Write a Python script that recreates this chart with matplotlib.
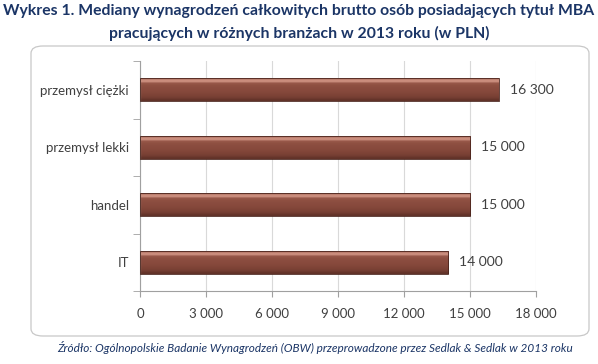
import numpy as np
import matplotlib.pyplot as plt
from matplotlib.patches import FancyBboxPatch
from matplotlib.ticker import FuncFormatter
from matplotlib.colors import LinearSegmentedColormap

categories = ["IT", "handel", "przemysł lekki", "przemysł ciężki"]
values = [14000, 15000, 15000, 16300]
xticks = [0, 3000, 6000, 9000, 12000, 15000, 18000]

title = ("Wykres 1. Mediany wynagrodzeń całkowitych brutto osób posiadających tytuł MBA\n"
         "pracujących w różnych branżach w 2013 roku (w PLN)")
source = "Źródło: Ogólnopolskie Badanie Wynagrodzeń (OBW) przeprowadzone przez Sedlak & Sedlak w 2013 roku"

navy = "#1b3566"
plt.rcParams["font.family"] = ["Lato", "DejaVu Sans"]

W, H = 598, 364
fig = plt.figure(figsize=(W / 100, H / 100), dpi=100)

# ramka wykresu
frame = FancyBboxPatch((31 / W, 1 - 336 / H), 558 / W, 290 / H,
                       boxstyle="round,pad=0,rounding_size=0.02",
                       transform=fig.transFigure, facecolor="white",
                       edgecolor="#c8c8c8", linewidth=0.9, zorder=-1)
fig.patches.append(frame)

ax = fig.add_axes([140 / W, 1 - 291 / H, 396 / W, 230 / H])
ax.set_facecolor("none")

y = np.arange(len(categories))
h = 0.4
ax.set_xlim(0, 18000)
ax.set_ylim(-0.5, len(categories) - 0.5)

# gradient w słupkach (góra -> dół)
grad = np.array([0.85, 0.95, 0.72, 0.62, 0.58, 0.55, 0.52, 0.48, 0.44, 0.38, 0.25]).reshape(-1, 1)
cmap = LinearSegmentedColormap.from_list(
    "br", [(0, "#3e1d16"), (0.5, "#84473a"), (0.75, "#9a5a4b"), (1, "#e0a595")])
for yi, v in zip(y, values):
    ax.imshow(grad, cmap=cmap, vmin=0, vmax=1, aspect="auto",
              extent=(0, v, yi - h / 2, yi + h / 2), zorder=2, interpolation="bilinear")
ax.barh(y, values, height=h, color="none", edgecolor="#4a241c", linewidth=0.6, zorder=3)

for yi, v in zip(y, values):
    ax.text(v + 500, yi, f"{v:,}".replace(",", " "), va="center", ha="left",
            fontsize=10, color="#404040")

ax.set_xticks(xticks)
ax.xaxis.set_major_formatter(FuncFormatter(lambda x, p: f"{int(x):,}".replace(",", " ")))
ax.set_yticks(y)
ax.set_yticklabels(categories)
ax.set_yticks(np.arange(-0.5, len(categories), 1), minor=True)
ax.tick_params(axis="y", which="major", length=0, pad=8, labelsize=9.5, labelcolor="#404040")
ax.tick_params(axis="y", which="minor", length=5, color="#a0a0a0")
ax.tick_params(axis="x", length=4, color="#a0a0a0", labelsize=9.5, labelcolor="#404040", pad=8)
ax.grid(axis="x", color="#d9d9d9", linewidth=0.8, zorder=0)
ax.set_axisbelow(True)
for s in ["top", "right"]:
    ax.spines[s].set_visible(False)
for s in ["left", "bottom"]:
    ax.spines[s].set_color("#a0a0a0")
    ax.spines[s].set_linewidth(0.8)

fig.text(0.5, 1 - 4 / H, title, ha="center", va="top", fontsize=11.3, fontweight="bold",
         color=navy, linespacing=1.65)
fig.text(315 / W, 1 - 348 / H, source, ha="center", va="center", fontsize=8.5,
         style="italic", color=navy)

fig.savefig("out.png", dpi=100)
